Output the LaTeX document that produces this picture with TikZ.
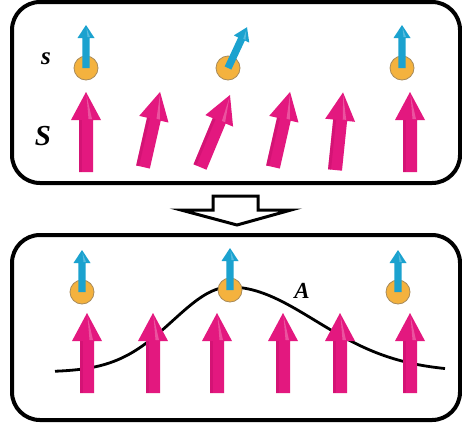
\documentclass[tikz,border=0pt]{standalone}
\usepackage{fontspec}
\setmainfont{Liberation Serif}
\definecolor{spinmag}{HTML}{E3187F}
\definecolor{spinmagdark}{HTML}{C70F6C}
\definecolor{spinmaglight}{HTML}{F17AB5}
\definecolor{spinblue}{HTML}{1BA2CF}
\definecolor{spinbluelight}{HTML}{7FCDE8}
\definecolor{dotfill}{HTML}{F4B23E}
\definecolor{dotedge}{HTML}{A88A5A}
\tikzset{
  panel/.style={draw=black, line width=4pt, rounded corners=28pt, fill=white},
  lbl/.style={inner sep=0pt},
  % large magenta spin: base at origin, pointing up, length #1
  bigspin/.pic={
    \fill[spinmag] (-7,0) -- (-7,-#1+28) -- (-15,-#1+28) -- (0,-#1) -- (15,-#1+28) -- (7,-#1+28) -- (7,0) -- cycle;
    \fill[spinmagdark, opacity=0.5] (-7,0) rectangle (-4,-#1+28);
    \fill[spinmaglight, opacity=0.6] (0.5,-#1+3) -- (6,-#1+27) -- (2.5,-#1+27) -- cycle;
  },
  % small cyan spin: base at origin, pointing up, length #1
  smallspin/.pic={
    \fill[spinblue] (-3.7,0) -- (-3.7,-#1+13) -- (-8.5,-#1+13) -- (0,-#1) -- (8.5,-#1+13) -- (3.7,-#1+13) -- (3.7,0) -- cycle;
    \fill[spinbluelight, opacity=0.6] (0.5,-#1+3) -- (4,-#1+12) -- (1.5,-#1+12) -- cycle;
  },
  dot/.style={circle, fill=dotfill, draw=dotedge, line width=0.8pt, minimum size=24pt, inner sep=0pt}
}
\begin{document}
\begin{tikzpicture}[x=1pt, y=-1pt]
\useasboundingbox (0,0) rectangle (462,426);

% ---- upper panel: disordered local moments ----
\node[panel, minimum width=448pt, minimum height=181pt] (top) at (236,92.5) {};
\node[lbl, font=\fontsize{25}{25}\selectfont\bfseries\itshape] (ls) at (46,59) {s};
\node[lbl, font=\fontsize{29}{29}\selectfont\bfseries\itshape] (lS) at (43,136) {S};

\node[dot] (s1) at (86,68) {};
\node[dot] (s2) at (228,68) {};
\node[dot] (s3) at (402,68) {};
\pic at (s1.center) {smallspin=43};
\pic[rotate=-25] at (s2.center) {smallspin=45};
\pic at (s3.center) {smallspin=43};

\coordinate (t1) at (86,172);
\coordinate (t2) at (143,167);
\coordinate (t3) at (200,167);
\coordinate (t4) at (273,167);
\coordinate (t5) at (335,170);
\coordinate (t6) at (410,172);
\pic at (t1) {bigspin=80};
\pic[rotate=-12.8] at (t2) {bigspin=77};
\pic[rotate=-22.6] at (t3) {bigspin=78};
\pic[rotate=-12.8] at (t4) {bigspin=77};
\pic[rotate=-5.9] at (t5) {bigspin=78};
\pic at (t6) {bigspin=80};

% ---- hollow arrow between the panels ----
\draw[line width=3pt, line join=miter, fill=white] (213,196) -- (258,196) -- (258,210) -- (291,210)
  -- (237,225) -- (181,210) -- (213,210) -- cycle;

% ---- lower panel: polarised moments with profile A ----
\node[panel, minimum width=448pt, minimum height=185pt] (bot) at (236,327.5) {};

\draw[line width=2.8pt, black]
  plot[domain=55:230, samples=60, smooth] (\x, {372 - 85*exp(-0.5*((\x-230)/57)^2)})
  -- plot[domain=230:445, samples=60, smooth] (\x, {372 - 85*exp(-0.5*((\x-230)/85)^2)});
\node[lbl, font=\fontsize{23}{23}\selectfont\bfseries\itshape] (lA) at (302,291) {A};

\node[dot] (b1) at (82,292) {};
\node[dot] (b2) at (230,290) {};
\node[dot] (b3) at (398,292) {};
\pic at (b1.center) {smallspin=42};
\pic at (b2.center) {smallspin=42};
\pic at (b3.center) {smallspin=42};

\coordinate (u1) at (87,393);
\coordinate (u2) at (153,393);
\coordinate (u3) at (217,393);
\coordinate (u4) at (283,393);
\coordinate (u5) at (340,393);
\coordinate (u6) at (410,393);
\foreach \u in {u1,u2,u3,u4,u5,u6}
  \pic at (\u) {bigspin=80};
\end{tikzpicture}
\end{document}
